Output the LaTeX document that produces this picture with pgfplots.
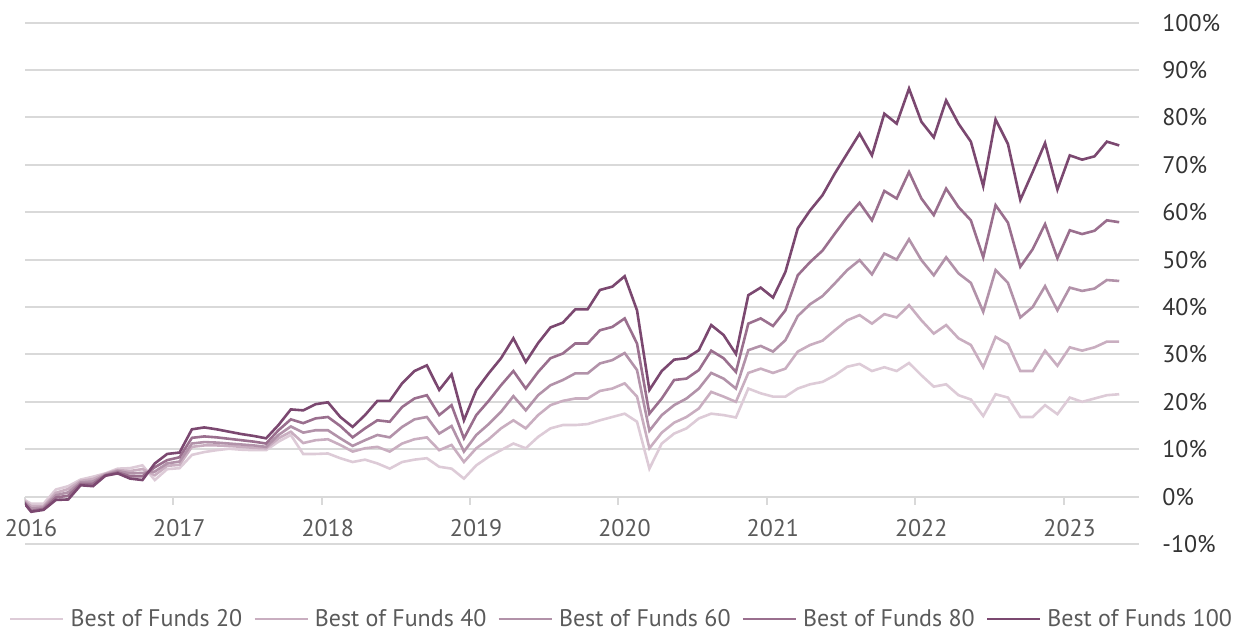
\documentclass[border=0pt]{standalone}
\usepackage{fontspec}
\setmainfont{PT Sans}
\usepackage{pgfplots}
\pgfplotsset{compat=1.18}
\usepackage{pgfplotstable}
\definecolor{cA}{HTML}{DDCBD7}
\definecolor{cB}{HTML}{C9AEC0}
\definecolor{cC}{HTML}{B292A9}
\definecolor{cD}{HTML}{9A6F8E}
\definecolor{cE}{HTML}{7B4870}
\definecolor{gridc}{HTML}{D9D9D9}
\definecolor{ytxt}{HTML}{333333}
\definecolor{xtxt}{HTML}{5A5A5A}

\pgfplotstableread{
j a b c d e
0 0 0 0 0 0
1 -1.5 -2.0 -2.5 -3.0 -3.2
2 -1.5 -2.0 -2.3 -2.6 -2.8
3 1.5 0.8 0.3 -0.2 -0.7
4 2.2 1.6 0.9 0.2 -0.6
5 3.6 3.3 3.0 2.7 2.4
6 4.2 3.7 3.2 2.7 2.2
7 4.9 4.8 4.6 4.5 4.4
8 5.9 5.6 5.4 5.1 4.9
9 6.0 5.4 4.9 4.3 3.8
10 6.6 5.8 5.0 4.3 3.5
11 3.5 4.5 5.3 6.2 7.0
12 5.8 6.5 7.0 7.7 9.0
13 6.0 6.7 7.4 8.3 9.3
14 8.8 10.5 11.2 12.4 14.2
15 9.4 10.8 11.5 12.7 14.6
16 9.8 10.8 11.4 12.5 14.2
17 10.1 10.7 11.2 12.2 13.7
18 9.9 10.5 11.0 11.9 13.2
19 9.8 10.3 10.8 11.6 12.8
20 9.8 10.2 10.5 11.2 12.3
21 11.6 12.3 13.0 14.0 15.1
22 13.0 13.7 14.8 16.3 18.4
23 9.0 11.3 13.5 15.5 18.2
24 9.0 11.9 14.0 16.5 19.5
25 9.1 12.1 14.0 16.8 19.9
26 8.1 10.9 12.3 14.9 16.8
27 7.3 9.5 10.7 12.5 14.7
28 7.8 10.2 11.9 14.4 17.2
29 7.0 10.5 13.0 16.1 20.2
30 5.9 9.5 12.5 15.8 20.2
31 7.3 11.2 14.7 18.9 23.9
32 7.8 12.1 16.3 20.7 26.5
33 8.1 12.5 16.8 21.4 27.7
34 6.3 9.8 13.3 17.2 22.5
35 5.9 10.9 14.9 19.3 25.8
36 3.8 7.3 9.5 12.3 16.1
37 6.6 10.2 13.0 17.2 22.5
38 8.4 12.1 15.3 20.2 26.0
39 9.8 14.4 17.9 23.5 29.2
40 11.2 16.1 21.2 26.5 33.4
41 10.2 14.4 18.2 22.8 28.4
42 12.6 17.2 21.4 26.3 32.4
43 14.4 19.3 23.5 29.2 35.7
44 15.1 20.2 24.6 30.2 36.7
45 15.1 20.7 26.0 32.3 39.5
46 15.3 20.7 26.0 32.3 39.5
47 16.1 22.3 28.1 35.1 43.6
48 16.8 22.8 28.8 35.8 44.3
49 17.5 23.9 30.3 37.6 46.5
50 15.8 21.1 26.7 32.3 39.3
51 5.9 10.2 13.9 17.5 22.5
52 11.2 13.5 17.2 20.7 26.5
53 13.3 15.6 19.3 24.6 28.9
54 14.4 16.8 20.7 24.9 29.2
55 16.5 18.6 22.8 26.7 30.9
56 17.5 22.1 26.1 30.8 36.2
57 17.2 21.1 24.9 29.2 34.1
58 16.7 20.0 22.8 26.3 30.1
59 22.8 26.1 30.9 36.5 42.5
60 21.8 27.0 31.8 37.6 44.1
61 21.1 26.1 30.6 36.0 42.0
62 21.1 27.0 33.0 39.3 47.4
63 22.8 30.6 38.1 46.7 56.6
64 23.7 32.0 40.6 49.5 60.4
65 24.2 32.9 42.3 51.9 63.6
66 25.6 35.1 45.0 55.5 68.2
67 27.4 37.2 47.8 59.0 72.4
68 28.0 38.3 49.9 62.0 76.6
69 26.5 36.5 46.9 58.3 72.0
70 27.3 38.5 51.3 64.5 80.8
71 26.5 37.8 50.0 62.9 78.7
72 28.2 40.4 54.3 68.5 86.1
73 25.6 37.2 49.9 62.9 79.1
74 23.2 34.4 46.7 59.4 75.8
75 23.7 36.2 50.5 65.0 83.6
76 21.4 33.4 47.1 61.1 78.7
77 20.5 32.0 45.1 58.3 74.9
78 17.0 27.3 39.0 50.5 65.5
79 21.6 33.7 47.8 61.5 79.6
80 20.9 32.2 45.1 57.8 74.4
81 16.8 26.5 37.8 48.5 62.6
82 16.8 26.5 40.0 52.2 68.5
83 19.3 30.8 44.4 57.5 74.6
84 17.4 27.6 39.3 50.3 64.8
85 20.9 31.5 44.1 56.2 72.0
86 20.0 30.8 43.4 55.4 71.1
87 20.7 31.5 43.9 56.1 71.8
88 21.4 32.7 45.7 58.3 74.9
89 21.6 32.7 45.5 57.9 74.1
}\data

\begin{document}
\begin{tikzpicture}
\begin{axis}[
  name=ax,
  scale only axis,
  width=557pt, height=260.65pt,
  xmin=0, xmax=90.1, ymin=-10, ymax=100,
  axis x line=middle, axis y line=right,
  axis line style={-},
  x axis line style={draw=gridc, line width=1pt},
  y axis line style={draw=none},
  xtick={0,12,24,36,48,60,72,84},
  xticklabels={2016,2017,2018,2019,2020,2021,2022,2023},
  ytick={-10,0,10,20,30,40,50,60,70,80,90,100},
  yticklabels={-10\%,0\%,10\%,20\%,30\%,40\%,50\%,60\%,70\%,80\%,90\%,100\%},
  ymajorgrids,
  grid style={draw=gridc, line width=1pt},
  xtick align=outside,
  x tick style={draw=gridc, line width=1pt},
  y tick style={draw=none},
  major tick length=4pt,
  xticklabel style={font=\fontsize{12}{14}\selectfont, text=xtxt, anchor=center, yshift=-11.5pt, xshift=3pt},
  yticklabel style={font=\fontsize{12}{14}\selectfont, text=ytxt, anchor=west, inner sep=0pt, xshift=9.5pt},
  legend columns=5,
  legend style={draw=none, fill=none, at={(axis description cs:0.5346,-0.1439)}, anchor=center,
    font=\fontsize{12}{14}\selectfont, text=xtxt,
    nodes={inner sep=0pt},
    /tikz/every odd column/.append style={column sep=3pt},
    /tikz/every even column/.append style={column sep=5.5pt}},
  legend image code/.code={\draw[#1] (0pt,0pt) -- (26.5pt,0pt);},
  every axis plot/.append style={line width=1.3pt},
]
\addplot[cA] table[x expr=\thisrow{j}-0.5, y=a] {\data};
\addlegendentry{Best of Funds 20}
\addplot[cB] table[x expr=\thisrow{j}-0.5, y=b] {\data};
\addlegendentry{Best of Funds 40}
\addplot[cC] table[x expr=\thisrow{j}-0.5, y=c] {\data};
\addlegendentry{Best of Funds 60}
\addplot[cD] table[x expr=\thisrow{j}-0.5, y=d] {\data};
\addlegendentry{Best of Funds 80}
\addplot[cE] table[x expr=\thisrow{j}-0.5, y=e] {\data};
\addlegendentry{Best of Funds 100}
\end{axis}
\pgfresetboundingbox
\path[use as bounding box] ([shift={(-12.5pt,-43pt)}]ax.south west) rectangle ([shift={(49pt,11.35pt)}]ax.north east);
\end{tikzpicture}
\end{document}
